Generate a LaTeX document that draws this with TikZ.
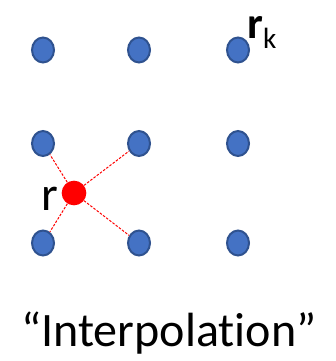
\documentclass[tikz,border=0pt]{standalone}
\usepackage{fontspec}
\setmainfont[Ligatures={NoCommon}]{Carlito}
\usetikzlibrary{shapes.geometric,positioning}
\definecolor{dotblue}{RGB}{68,114,196}
\definecolor{dotedge}{RGB}{47,82,143}

\begin{document}
\begin{tikzpicture}[
  x=0.3mm,y=-0.3mm,
  dot/.style={ellipse,draw=dotedge,fill=dotblue,line width=0.6mm,
              minimum width=6.6mm,minimum height=7.5mm,inner sep=0pt},
  query/.style={circle,fill=red,minimum width=7.4mm,inner sep=0pt},
  link/.style={red,line width=0.3mm,dash pattern=on 0.75mm off 0.45mm},
  lbl/.style={inner sep=0pt,font=\fontsize{41}{46}\selectfont}
]
\useasboundingbox (0,0) rectangle (335,361);
% grid of sample points
\node[dot] (p11) at (43,50) {};
\node[dot] (p12) at (139,50) {};
\node[dot] (p13) at (238,50) {};
\node[dot] (p21) at (43,143.5) {};
\node[dot] (p22) at (139,143.5) {};
\node[dot] (p23) at (238,143.5) {};
\node[dot] (p31) at (43,243) {};
\node[dot] (p32) at (139,243) {};
\node[dot] (p33) at (238,243) {};
% interpolated point and its neighbours
\node[query] (r) at (74,193) {};
\draw[link] (r) -- (p21); \draw[link] (r) -- (p22);
\draw[link] (r) -- (p31); \draw[link] (r) -- (p32);
\node[lbl,anchor=base] (rlab) at (50,210) {r};
\node[inner sep=0pt,anchor=base west] (rk) at (247,38)
  {{\fontsize{38}{40}\selectfont\bfseries r}\raisebox{-3mm}{\fontsize{25}{27}\selectfont k}};
\node[lbl,anchor=base] (title) at (169,346) {“Interpolation”};
\end{tikzpicture}
\end{document}
